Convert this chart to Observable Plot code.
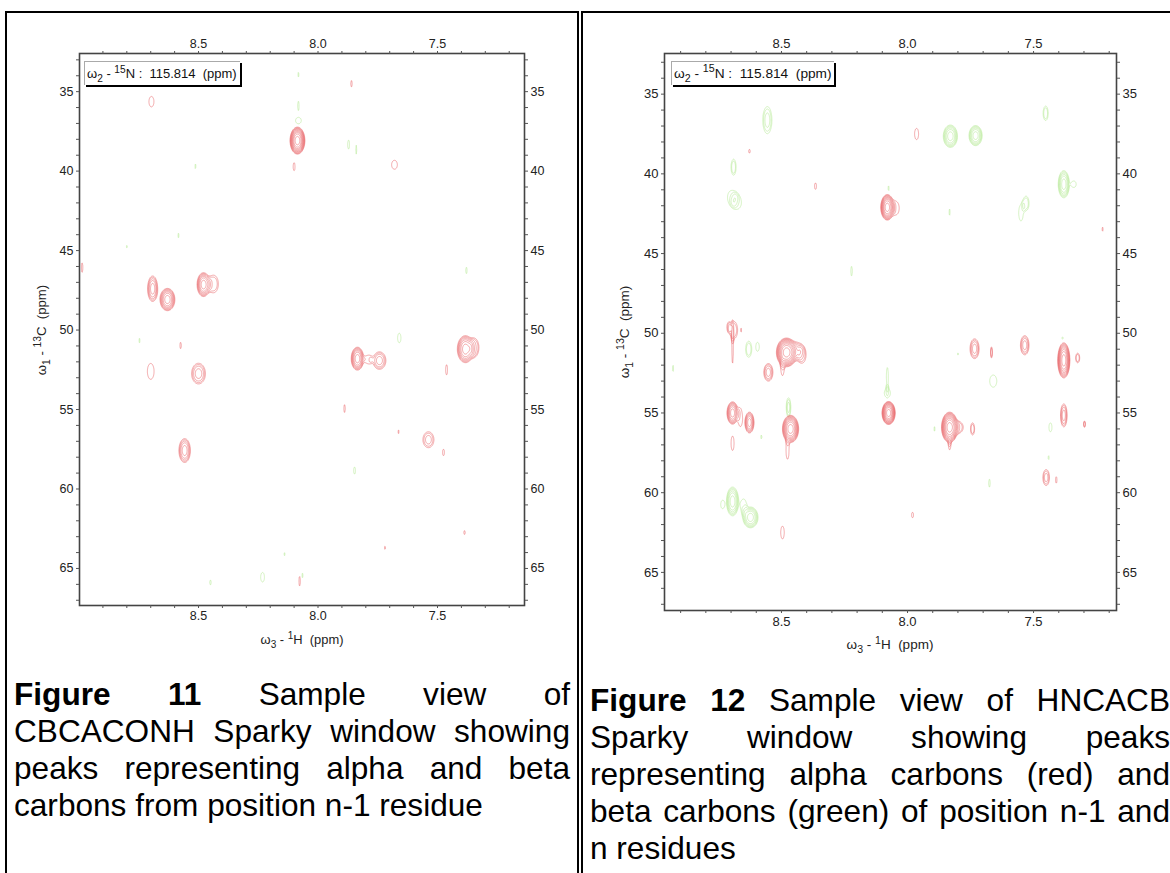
<!DOCTYPE html>
<html><head><meta charset="utf-8">
<script src="https://cdn.jsdelivr.net/npm/d3@7"></script>
<script src="https://cdn.jsdelivr.net/npm/@observablehq/plot@0.6"></script>
<style>
html,body{margin:0;padding:0;background:#fff;overflow:hidden;width:1170px;height:873px;font-family:"Liberation Sans",Arial,sans-serif;color:#000}
.cell{position:absolute;top:11px;height:900px;border:2px solid #000;box-sizing:border-box}
.plot{position:absolute;top:0}
.plot svg{display:block;overflow:visible}
.cap{position:absolute;font-size:31.6px;line-height:37px;text-align:justify}
.cap .j{display:block;text-align:justify;text-align-last:justify;white-space:normal}
.lab{position:absolute;white-space:nowrap;line-height:14px;color:#222;text-align:center}
.lab sub,.lab sup,.box sub,.box sup{font-size:.78em;line-height:0}
.box{position:absolute;background:#fff;line-height:23px;height:23px;padding:0 2px;white-space:nowrap;border:1px solid #aaa;border-right:none;border-bottom:none;box-shadow:2px 2px 0 #000;color:#111;box-sizing:content-box}
</style></head><body>
<div class="cell" style="left:5px;width:574px"></div>
<div class="cell" style="left:581px;width:620px"></div>
<div id="p1" class="plot" style="left:0"></div>
<div id="p2" class="plot" style="left:590px"></div>

<div class="box" style="left:84px;top:61px;width:151px;font-size:13px">ω<sub>2</sub> - <sup>15</sup>N :&nbsp; 115.814&nbsp; (ppm)</div>
<div class="box" style="left:671px;top:61px;width:158px;font-size:13.7px">ω<sub>2</sub> - <sup>15</sup>N :&nbsp; 115.814&nbsp; (ppm)</div>

<div class="lab" style="left:242px;width:120px;top:633px;font-size:12.9px">ω<sub>3</sub> - <sup>1</sup>H&nbsp; (ppm)</div>
<div class="lab" style="left:830px;width:120px;top:638px;font-size:13.5px">ω<sub>3</sub> - <sup>1</sup>H&nbsp; (ppm)</div>
<div class="lab" style="left:-18px;width:120px;top:323px;font-size:13.2px;transform:rotate(-90deg)">ω<sub>1</sub> - <sup>13</sup>C&nbsp; (ppm)</div>
<div class="lab" style="left:565px;width:120px;top:325px;font-size:13.5px;transform:rotate(-90deg)">ω<sub>1</sub> - <sup>13</sup>C&nbsp; (ppm)</div>

<div class="cap" style="left:14px;top:676px;width:556px"><span class="j"><b>Figure 11</b> Sample view of</span><span class="j">CBCACONH Sparky window showing</span><span class="j">peaks representing alpha and beta</span>carbons from position n-1 residue</div>
<div class="cap" style="left:590px;top:682px;width:580px"><b>Figure 12</b> Sample view of HNCACB Sparky window showing peaks representing alpha carbons (red) and beta carbons (green) of position n-1 and n residues</div>

<script>
// Peaks: [1H ppm, 13C ppm, half-width 1H, half-width 13C, contour rings]
const leftRed = [
[8.697,35.63,.0105,.33,1],[8.086,38.08,.031,.85,10],[8.10,39.72,.004,.25,1],[7.68,39.6,.012,.28,1],
[7.86,34.5,.003,.2,1],[8.987,46.07,.003,.3,1],[8.692,47.4,.021,.8,5],[8.63,48.08,.031,.7,7],
[8.479,47.14,.027,.75,7],[8.437,47.1,.02,.55,2],[8.70,52.6,.014,.5,1],[8.5,52.74,.029,.65,4],
[8.575,50.97,.003,.2,1],[8.558,57.58,.024,.75,5],[7.835,51.8,.026,.72,7],[7.79,51.85,.012,.25,1],
[7.743,51.92,.027,.55,4],[7.383,51.2,.034,.85,7],[7.345,51.1,.018,.55,2],[7.462,52.5,.004,.32,1],
[7.889,54.94,.003,.25,1],[7.663,56.4,.002,.12,1],[7.538,56.9,.023,.5,3],[7.475,57.7,.004,.2,1],
[7.387,62.74,.003,.12,1],[7.72,63.7,.002,.1,1],[8.077,65.8,.003,.3,1]
];
const leftGreen = [
[8.082,33.93,.002,.15,1],[8.082,35.9,.003,.3,1],[8.082,36.82,.012,.2,1],[8.513,39.7,.002,.15,1],
[7.872,38.33,.004,.28,1],[7.84,38.65,.002,.28,1],[8.80,44.75,.002,.08,1],[8.584,44.05,.002,.15,1],
[7.379,46.25,.003,.2,1],[7.66,50.5,.007,.3,1],[8.747,50.66,.002,.15,1],[7.847,58.84,.004,.22,1],
[8.45,65.88,.003,.15,1],[8.232,65.55,.008,.3,1],[8.14,64.1,.002,.1,1],[8.065,65.44,.002,.15,1]
];
const rightRed = [
[8.627,38.58,.003,.12,1],[8.365,40.77,.004,.2,1],[8.08,42.1,.026,.8,9],[8.045,42.15,.012,.4,1],
[7.964,37.5,.008,.35,1],[7.226,43.47,.002,.13,1],[8.69,49.8,.016,.55,2],[8.694,50.9,.003,1.0,1],
[8.71,49.6,.006,.25,1],[8.66,49.8,.002,.12,1],[8.48,51.2,.04,.9,10],[8.436,51.1,.02,.5,3],
[8.417,51.4,.012,.4,1],[8.496,52.2,.006,.45,1],[8.552,52.45,.018,.55,4],[8.694,55.0,.022,.7,7],
[8.663,55.3,.008,.55,1],[8.627,55.6,.018,.65,6],[8.694,56.9,.006,.45,1],[8.464,56,.032,.85,9],
[8.476,57.35,.006,.55,1],[8.075,55.0,.026,.72,10],[7.734,50.97,.018,.62,4],[7.667,51.2,.004,.35,2],
[7.535,50.75,.017,.6,4],[7.38,51.7,.024,1.1,9],[7.325,51.55,.008,.3,2],[7.833,55.9,.032,.95,10],
[7.797,55.9,.018,.35,2],[7.833,57,.004,.3,1],[7.742,56,.008,.38,2],[7.38,55.15,.013,.72,4],
[7.298,55.7,.004,.2,2],[7.45,59.05,.013,.5,3],[7.41,59.2,.003,.2,1],[8.496,62.5,.007,.4,1],
[7.98,61.4,.004,.17,1]
];
const rightGreen = [
[8.556,36.63,.018,.85,3],[8.69,39.58,.01,.5,2],[8.698,41.47,.016,.42,1],[8.675,41.8,.016,.4,1],
[8.075,40.9,.002,.15,1],[8.222,46.1,.003,.3,1],[7.83,37.64,.028,.7,6],[7.73,37.6,.026,.63,6],
[7.452,36.2,.01,.45,2],[7.38,40.65,.022,.85,6],[7.34,40.65,.009,.2,1],[7.53,41.85,.012,.45,2],
[7.55,42.45,.009,.5,1],[7.833,42.4,.002,.2,1],[8.93,52.2,.002,.2,1],[8.63,51.0,.012,.5,2],
[8.595,50.85,.007,.28,1],[8.472,54.65,.009,.6,3],[8.08,53.75,.012,.28,1],[8.08,52.75,.004,.6,1],
[8.58,56.5,.002,.12,1],[7.80,51.3,.002,.06,1],[7.66,53.0,.014,.38,1],[7.893,56,.002,.15,1],
[7.433,55.9,.006,.28,1],[7.44,57.8,.002,.12,1],[7.675,59.4,.003,.25,1],[7.385,50.3,.003,.06,1],
[8.694,60.55,.024,.9,6],[8.623,61.55,.03,.65,6],[8.65,60.8,.01,.4,1],[8.734,60.74,.007,.25,1]
];
const xLabels = [8.5, 8.0, 7.5];
const xMinor = [8.9,8.8,8.7,8.6,8.5,8.4,8.3,8.2,8.1,8.0,7.9,7.8,7.7,7.6,7.5,7.4,7.3,7.2];
const yLabels = [35,40,45,50,55,60,65];
const yMinor = [33,34,35,36,37,38,39,40,41,42,43,44,45,46,47,48,49,50,51,52,53,54,55,56,57,58,59,60,61,62,63,64,65,66,67];
const levels = [1,1.28,1.64,2.1,2.68,3.44,4.4,5.63,7.2,9.22,11.8,15.1];

function field(peaks){
  const ps = peaks.map(([x,y,hx,hy,n])=>{
    const A = levels[n-1]*1.14;
    return {x,y,hx,hy,A,k:Math.log(A),p:n<=2?4:2.5};
  });
  return (px,py)=>{
    let v=0;
    for(const q of ps){
      const dx=(px-q.x)/q.hx; if(dx>3||dx<-3) continue;
      const dy=(py-q.y)/q.hy; if(dy>3||dy<-3) continue;
      v+=q.A*Math.exp(-q.k*Math.pow(dx*dx+dy*dy,q.p/2));
    }
    return v;
  };
}

function draw(id, o){
  const contour=(peaks,color)=>Plot.contour({
    x1:o.xd[0],x2:o.xd[1],y1:o.yd[0],y2:o.yd[1],
    value:field(peaks),thresholds:levels,pixelSize:.5,
    fill:"none",stroke:color,strokeWidth:.6,strokeOpacity:.85
  });
  const axis=(f,vals,opts)=>f(vals,{tickFormat:d=>"",label:null,tickSize:3,stroke:"#555",...opts});
  const chart=Plot.plot({
    width:o.w,height:o.h,marginLeft:o.ml,marginRight:o.mr,marginTop:o.mt,marginBottom:o.mb,
    style:{background:"transparent",fontSize:o.fs+"px",fontFamily:"Liberation Sans, Arial, sans-serif",color:"#222"},
    x:{domain:o.xd},y:{domain:o.yd},
    marks:[
      contour(o.green,"#aee88a"),
      contour(o.red,"#e8585c"),
      Plot.frame({stroke:"#444",strokeWidth:1.6}),
      axis(Plot.axisX,xMinor,{anchor:"top"}),
      axis(Plot.axisX,xMinor,{anchor:"bottom"}),
      axis(Plot.axisY,yMinor,{anchor:"left"}),
      axis(Plot.axisY,yMinor,{anchor:"right"}),
      Plot.axisX(xLabels,{anchor:"top",label:null,tickSize:0,tickPadding:6,tickFormat:d3.format(".1f")}),
      Plot.axisX(xLabels,{anchor:"bottom",label:null,tickSize:0,tickPadding:6,tickFormat:d3.format(".1f")}),
      Plot.axisY(yLabels,{anchor:"left",label:null,tickSize:0,tickPadding:6}),
      Plot.axisY(yLabels,{anchor:"right",label:null,tickSize:0,tickPadding:6})
    ]
  });
  document.getElementById(id).appendChild(chart);
}
draw("p1",{w:579,h:660,ml:79,mr:55,mt:53,mb:55,xd:[8.998,7.136],yd:[67.33,32.6],red:leftRed,green:leftGreen,fs:12.5});
draw("p2",{w:580,h:665,ml:74,mr:54,mt:53,mb:55,xd:[8.964,7.171],yd:[67.39,32.45],red:rightRed,green:rightGreen,fs:13});
</script>
</body></html>
